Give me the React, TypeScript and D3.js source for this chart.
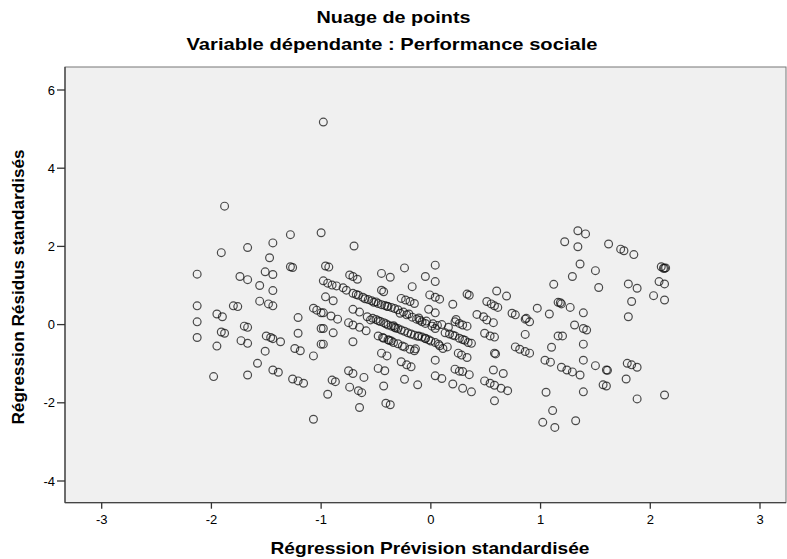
import React from "react";
import * as d3 from "d3";

const titleMain = "Nuage de points";
const titleSub = "Variable dépendante : Performance sociale";
const xAxisTitle = "Régression Prévision standardisée";
const yAxisTitle = "Régression Résidus standardisés";

const xTicks = [-3, -2, -1, 0, 1, 2, 3];
const yTicks = [-4, -2, 0, 2, 4, 6];

// standardized predicted values
const predicted = [
  -2.13, -2.13, -2.13, -2.13, -1.88, -1.91, -1.67, -1.44, -1.28, -1.47, -1.51, -1.44, -1.74, -1.67, -1.56, -1.44,
  -1.28, -1.26, -1.56, -1.48, -1.44, -1.8, -1.76, -1.0, -1.95, -1.9, -1.91, -1.88, -1.95, -1.7, -1.67, -1.73,
  -1.67, -1.5, -1.46, -1.44, -1.37, -1.51, -1.58, -1.44, -1.39, -1.98, -1.67, -1.26, -1.21, -1.16, -1.21, -1.21,
  -1.24, -1.19, -1.07, -1.07, -1.04, -1.0, -1.0, -1.0, -1.07,
  -0.98, -0.7, -0.96, -0.93, -0.98, -0.94, -0.9, -0.86, -0.96, -0.89, -0.74, -0.71, -0.67, -0.77, -0.71, -0.66,
  -0.62, -0.54, -0.48, -0.42, -0.36, -0.45, -0.37, -0.45, -0.43, -0.24, -0.17, -0.27, -0.23, -0.19, -0.15, -0.05,
  0.04, 0.04, -0.01, 0.04, -0.98, -0.91, -0.85, -0.98, -0.89, -0.98, -0.71, -0.65, -0.75, -0.71, -0.65, -0.59,
  -0.71, -0.53, -0.48, -0.43, -0.39, -0.36, -0.28, -0.22, -0.17, -0.13, -0.08, -0.02, 0.04, -0.48, -0.43, -0.39,
  -0.34, -0.27, -0.21, -0.15, -0.08, -0.02, 0.04, -0.24, -0.19, -0.15, -0.45, -0.4, -0.48, -0.42, -0.27, -0.22,
  -0.18, 0.04, 0.04, -0.24, -0.12, -0.75, -0.71, -0.61, -0.9, -0.87, -0.74, -0.66, -0.63, -0.94, -0.43, -0.65,
  -0.41, -0.37,
  -0.6, -0.5, -0.4, -0.33, -0.58, -0.46, -0.33, -0.3, -0.25, -0.1, -0.05, -0.12, -0.05, 0.0, -0.36, -0.3,
  -0.52, -0.45, -0.39, -0.3, -0.2, -0.11, -0.04, 0.02, -0.32, -0.24, -0.18, -0.11, -0.05, 0.07, 0.15, -0.55,
  -0.5, -0.41, -0.34, 0.1, 0.16, 0.06, -0.8, -0.68, -0.57, 0.2, 0.31, 0.37, -0.44, -0.38, -0.26, -0.14,
  0.08, 0.2, 0.33, 0.35, 0.6, 0.69, 0.51, 0.55, 0.58, 0.61, 0.42, 0.48, 0.74, 0.77, 0.87, 0.97,
  1.08, 1.12, 1.18, 0.23, 0.01, 0.04, 0.22, 0.26, 0.29, 0.33, 0.51, 0.57, 0.86, 0.9, 0.08, 0.11,
  0.13, 0.17, 0.22, 0.26, 0.29, 0.34, 0.49, 0.54, 0.58, 0.86, 0.25, 0.28, 0.33, 0.58, 0.59, 0.77,
  0.81, 0.86, 0.9, 1.1, 1.04, 1.09, 0.22, 0.26, 0.29, 0.35, 0.1, 0.57, 0.66, 0.2, 0.29, 0.37,
  0.49, 0.54, 0.58, 0.64, 0.7, 1.05, 0.58, 1.16,
  1.34, 1.41, 1.22, 1.34, 1.62, 1.73, 1.76, 1.85, 1.36, 1.5, 1.29, 1.53, 2.1, 2.12, 2.13, 2.14,
  2.08, 2.13, 1.8, 1.88, 2.03, 2.13, 1.83, 1.16, 1.19, 1.27, 1.39, 1.8, 1.31, 1.39, 1.42, 1.2,
  1.39, 1.19, 1.24, 1.29, 1.36, 1.39, 1.5, 1.6, 1.61, 1.79, 1.83, 1.88, 1.57, 1.6, 1.78, 1.39,
  1.88, 2.13, 1.11, 1.02, 1.13, 1.32,
];

// standardized residuals (paired with predicted)
const residuals = [
  1.29, 0.48, 0.07, -0.33, 3.03, 1.84, 1.97, 2.09, 2.3, 1.71, 1.35, 1.28, 1.23, 1.15, 1.0, 0.87,
  1.48, 1.46, 0.6, 0.53, 0.48, 0.48, 0.46, 2.35, 0.27, 0.2, -0.19, -0.22, -0.55, -0.04, -0.07, -0.41,
  -0.48, -0.29, -0.33, -0.36, -0.44, -0.68, -0.99, -1.16, -1.22, -1.33, -1.29, -1.39, -1.44, -1.5, 0.18, -0.22,
  -0.61, -0.67, -0.8, 0.42, 0.37, 0.3, -0.1, -0.5, -2.42,
  5.18, 2.01, 1.5, 1.47, 1.12, 1.06, 1.01, 0.99, 0.71, 0.61, 1.27, 1.23, 1.16, 0.88, 0.8, 0.75,
  0.7, 0.61, 0.54, 0.49, 0.44, 1.31, 1.21, 0.88, 0.84, 1.45, 0.97, 0.67, 0.63, 0.59, 0.54, 1.23,
  1.52, 1.1, 0.76, 0.7, 0.3, 0.22, 0.14, -0.1, -0.21, -0.5, 0.39, 0.32, 0.05, -0.01, -0.07, -0.16,
  -0.44, 0.16, 0.1, 0.05, -0.01, -0.04, 0.29, 0.25, 0.19, 0.14, 0.07, 0.39, 0.3, -0.29, -0.35, -0.39,
  -0.46, -0.14, -0.21, -0.27, -0.32, -0.39, -0.46, -0.57, -0.63, -0.67, -0.73, -0.8, -1.12, -1.18, -0.95, -1.03,
  -1.08, -0.91, -1.31, -1.4, -1.54, -1.18, -1.25, -1.35, -1.42, -1.46, -1.6, -1.69, -1.74, -1.78, -1.57, -2.12,
  -2.01, -2.05,
  0.66, 0.58, 0.47, 0.41, 0.2, 0.08, -0.07, -0.1, 0.32, 0.11, 0.03, -0.3, -0.36, -0.42, -0.42, -0.49,
  0.57, 0.51, 0.46, 0.38, 0.27, 0.17, 0.09, 0.02, -0.09, -0.17, -0.24, -0.29, -0.35, -0.5, -0.57, 0.12,
  0.13, 0.02, -0.03, 0.0, -0.07, -0.02, 0.94, 0.77, 0.64, -0.27, -0.4, -0.48, -0.33, -0.4, -0.55, -0.62,
  0.65, 0.52, 0.78, 0.75, 0.86, 0.73, 0.59, 0.53, 0.48, 0.44, 0.26, 0.2, 0.29, 0.25, 0.16, 0.42,
  0.27, 1.03, 0.56, 0.13, -0.04, -0.1, 0.07, 0.03, -0.01, -0.04, 0.12, 0.05, 0.14, 0.07, -0.54, -0.61,
  -0.21, -0.24, -0.29, -0.35, -0.38, -0.46, -0.22, -0.29, -0.32, -0.25, -0.73, -0.78, -0.84, -0.73, -0.75, -0.57,
  -0.63, -0.69, -0.73, -0.58, -0.91, -0.96, -1.14, -1.19, -1.2, -1.28, -1.38, -1.16, -1.25, -1.52, -1.63, -1.72,
  -1.44, -1.5, -1.55, -1.63, -1.69, -1.73, -1.95, -0.29,
  2.4, 2.32, 2.12, 1.99, 2.06, 1.93, 1.89, 1.79, 1.55, 1.38, 1.23, 0.95, 1.48, 1.44, 1.44, 1.45,
  1.1, 1.04, 1.04, 0.93, 0.74, 0.63, 0.59, 0.57, 0.53, 0.44, 0.3, 0.2, -0.01, -0.1, -0.14, -0.29,
  -0.5, -1.09, -1.16, -1.21, -1.29, -0.91, -1.05, -1.16, -1.17, -0.99, -1.03, -1.09, -1.54, -1.57, -1.39, -1.72,
  -1.9, -1.8, -2.2, -2.5, -2.63, -2.46,
];

const W = 787;
const H = 559;
const plot = { left: 65, right: 786, top: 67, bottom: 502.7 };
const font = "'Liberation Sans', Arial, sans-serif";

export default function App() {
  const x = d3.scaleLinear().domain([-3, 3]).range([101.7, 760]);
  const y = d3.scaleLinear().domain([-4, 4]).range([481, 168.2]);

  const pts = d3.zip(predicted, residuals);

  return (
    <svg
      width={W}
      height={H}
      style={{ position: "absolute", left: 0, top: 0, background: "#fff" }}
      fontFamily={font}
    >
      <text x={W / 2} y={23} textAnchor="middle" fontSize={16.5} fontWeight="bold" fill="#000"
        textLength={154} lengthAdjust="spacingAndGlyphs">
        {titleMain}
      </text>
      <text x={392} y={50} textAnchor="middle" fontSize={16.5} fontWeight="bold" fill="#000"
        textLength={411} lengthAdjust="spacingAndGlyphs">
        {titleSub}
      </text>
      <rect
        x={plot.left}
        y={plot.top}
        width={plot.right - plot.left}
        height={plot.bottom - plot.top}
        fill="#f0f0f0"
        stroke="#777"
        strokeWidth={1}
      />
      <line x1={plot.left} x2={plot.left} y1={plot.top} y2={plot.bottom} stroke="#444" strokeWidth={1.3} />
      <line x1={plot.left} x2={plot.right} y1={plot.bottom} y2={plot.bottom} stroke="#444" strokeWidth={1.3} />
      {xTicks.map((t) => (
        <g key={"xt" + t}>
          <line x1={x(t)} x2={x(t)} y1={plot.bottom} y2={plot.bottom + 6} stroke="#333" strokeWidth={1.3} />
          <text x={x(t)} y={524} textAnchor="middle" fontSize={13} fill="#000">
            {t}
          </text>
        </g>
      ))}
      {yTicks.map((t) => (
        <g key={"yt" + t}>
          <line x1={plot.left - 8} x2={plot.left} y1={y(t)} y2={y(t)} stroke="#333" strokeWidth={1.3} />
          <text x={55} y={y(t) + 4.5} textAnchor="end" fontSize={13} fill="#000">
            {t}
          </text>
        </g>
      ))}
      <g>
        {pts.map(([px, py], i) => (
          <circle
            key={i}
            cx={x(px)}
            cy={y(py)}
            r={3.9}
            fill="none"
            stroke="#111"
            strokeOpacity={0.75}
            strokeWidth={1.2}
          />
        ))}
      </g>
      <text x={430} y={554} textAnchor="middle" fontSize={16.5} fontWeight="bold" fill="#000"
        textLength={319} lengthAdjust="spacingAndGlyphs">
        {xAxisTitle}
      </text>
      <text
        transform={`translate(24, ${287}) rotate(-90)`}
        textAnchor="middle"
        fontSize={16.5}
        fontWeight="bold"
        fill="#000"
        textLength={275}
        lengthAdjust="spacingAndGlyphs"
      >
        {yAxisTitle}
      </text>
    </svg>
  );
}
